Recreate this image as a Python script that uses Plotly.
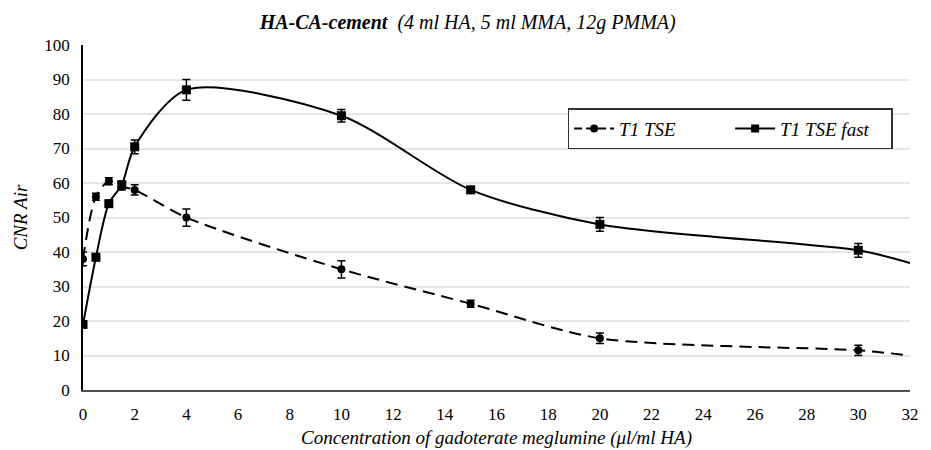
import plotly.graph_objects as go

# Data
conc = [0, 0.5, 1, 1.5, 2, 4, 10, 15, 20, 30]
tse = [38, 56, 60.5, 59, 58, 50, 35, 25, 15, 11.5]
tse_err = [2, 1, 1, 1, 1.5, 2.5, 2.5, 1, 1.5, 1.5]
fast = [19, 38.5, 54, 59.5, 70.5, 87, 79.5, 58, 48, 40.5]
fast_err = [1, 1, 1, 1, 2, 3, 1.8, 1, 2, 2]
# trend continuation to the axis edge (line only, no marker)
end_x = 32
tse_end = 10
fast_end = 36.8

FONT = "Liberation Serif"

fig = go.Figure()

# smoothed lines
fig.add_trace(go.Scatter(x=conc + [end_x], y=tse + [tse_end], mode="lines",
                         line=dict(color="black", width=2, dash="12px,7px", shape="spline", smoothing=0.8),
                         showlegend=False, hoverinfo="skip"))
fig.add_trace(go.Scatter(x=conc + [end_x], y=fast + [fast_end], mode="lines",
                         line=dict(color="black", width=2, shape="spline", smoothing=0.8),
                         showlegend=False, hoverinfo="skip"))
# markers with error bars
fig.add_trace(go.Scatter(x=conc, y=tse, mode="markers",
                         marker=dict(symbol="circle", size=8, color="black"),
                         error_y=dict(type="data", array=tse_err, color="black", thickness=1.5, width=4),
                         showlegend=False))
fig.add_trace(go.Scatter(x=conc, y=fast, mode="markers",
                         marker=dict(symbol="square", size=9, color="black"),
                         error_y=dict(type="data", array=fast_err, color="black", thickness=1.5, width=4),
                         showlegend=False))
# legend entries
fig.add_trace(go.Scatter(x=[None], y=[None], mode="lines+markers", name="<i>T1 TSE</i>",
                         line=dict(color="black", width=2, dash="8px,4px"),
                         marker=dict(symbol="circle", size=8, color="black")))
fig.add_trace(go.Scatter(x=[None], y=[None], mode="lines+markers", name="<i>T1 TSE fast</i>",
                         line=dict(color="black", width=2),
                         marker=dict(symbol="square", size=8, color="black")))

fig.update_layout(
    width=923, height=442,
    margin=dict(l=75, r=21, t=37, b=60, autoexpand=False),
    paper_bgcolor="white", plot_bgcolor="white",
    font=dict(family=FONT, size=17, color="black"),
    title=dict(text="<b><i>HA-CA-cement</i></b>&nbsp; <i>(4 ml HA, 5 ml MMA, 12g PMMA)</i>",
               xref="container", x=0.498, xanchor="center",
               yref="container", y=0.968, yanchor="middle",
               font=dict(family=FONT, size=20, color="black")),
    legend=dict(x=0.586, y=0.817, xanchor="left", yanchor="top", orientation="h",
                bordercolor="#333333", borderwidth=1.5, bgcolor="white",
                font=dict(family=FONT, size=19, color="black"),
                itemwidth=40, entrywidthmode="pixels", entrywidth=106,
                tracegroupgap=0),
    xaxis=dict(range=[0, 32], dtick=2, tick0=0, showgrid=False, zeroline=False,
               showline=True, linecolor="#505050", linewidth=1.5, ticks="",
               ticklabelstandoff=8,
               tickfont=dict(family=FONT, size=17, color="black"),
               title=dict(text="<i>Concentration of gadoterate meglumine (μl/ml HA)</i>",
                          font=dict(family=FONT, size=19, color="black"), standoff=8)),
    yaxis=dict(range=[0, 100], dtick=10, tick0=0, showgrid=True, gridcolor="#e6e6e6",
               gridwidth=1.5, zeroline=False, showline=True, linecolor="black",
               linewidth=1.5, ticks="", ticklabelstandoff=8,
               tickfont=dict(family=FONT, size=17, color="black"),
               title=dict(text="<i>CNR Air</i>", font=dict(family=FONT, size=19, color="black"), standoff=12)),
)

fig.write_html("out.html")
